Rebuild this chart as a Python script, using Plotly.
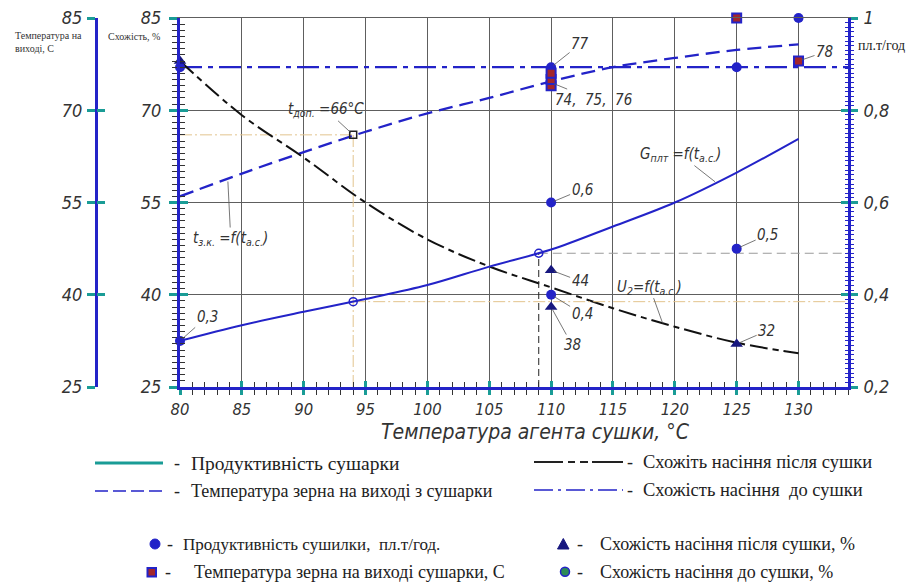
import plotly.graph_objects as go

# ---------------- data ----------------
x_curve = [80, 85, 90, 95, 100, 105, 110, 115, 120, 125, 130]
productivity = [0.300, 0.334, 0.363, 0.391, 0.421, 0.461, 0.498, 0.548, 0.600, 0.665, 0.738]
grain_temp = [56.0, 59.7, 63.2, 66.5, 69.5, 72.0, 74.7, 77.0, 78.5, 79.8, 80.7]
germ_after = [78.0, 69.2, 62.3, 55.0, 49.0, 44.6, 41.2, 37.8, 34.8, 32.2, 30.5]
germ_before_x = [80, 134]
germ_before = [77, 77]

prod_pts_x = [80, 110, 110, 125, 130]
prod_pts = [0.3, 0.6, 0.4, 0.5, 1.0]
temp_pts_x = [110, 110, 110, 125, 130]
temp_pts = [74, 75, 76, 85, 78]
after_pts_x = [80, 110, 110, 125]
after_pts = [78, 44, 38, 32]
before_pts_x = [80, 110, 125]
before_pts = [77, 77, 77]

dop_x, dop_temp, dop_prod = 94, 66, 0.385
cross_x, cross_prod = 109, 0.49

x_ticks = [80, 85, 90, 95, 100, 105, 110, 115, 120, 125, 130]
y_ticks = [25, 40, 55, 70, 85]
y2_ticks = [0.2, 0.4, 0.6, 0.8, 1.0]

# point labels: text, x, y, axis, ax, ay
point_labels = [
    ("77", 110, 77, "y", 29, -23),
    ("74,  75,  76", 110, 74.5, "y", 42, 17),
    ("78", 130, 78, "y", 26, -9),
    ("0,6", 110, 0.6, "y2", 31, -13),
    ("0,5", 125, 0.5, "y2", 31, -14),
    ("44", 110, 44, "y", 29, 11),
    ("0,4", 110, 0.4, "y2", 31, 19),
    ("38", 110, 38, "y", 21, 38),
    ("32", 125, 32, "y", 30, -13),
    ("0,3", 80, 0.3, "y2", 27, -24),
]
curve_labels = [
    ("t<sub>доп.</sub> =66°C", 94, 66, "y", -27, -25),
    ("t<sub>з.к.</sub> =f(t<sub>а.с.</sub>)", 83.86, 58.9, "y", 3, 60),
    ("G<sub>плт</sub> =f(t<sub>а.с.</sub>)", 123.44, 0.641, "y2", -37, -29),
    ("U<sub>2</sub>=f(t<sub>а.с.</sub>)", 119.1, 34.9, "y", -14, -39),
]

# ---------------- style ----------------
BLUE = "#2323C8"
NAVY = "#17177F"
TEAL = "#1A9C96"
TAN = "#E3C48E"
GRID = "#5E5E5E"
SQRED = "#A3262B"
GREEN = "#2E8B57"
GOST = "Liberation Sans Narrow, DejaVu Sans Condensed, Arial Narrow, sans-serif"
SERIF = "Liberation Serif, Times New Roman, serif"

W, H = 919, 582
ML, MR, MT, MB = 10, 10, 18, 195
PW = W - ML - MR
PH = H - MT - MB


def px(x):
    return (x - ML) / PW


def py(y):
    return (H - MB - y) / PH


XD = [px(180), px(848)]
FAR = px(96)

fig = go.Figure()

# helper lines
fig.add_trace(go.Scatter(x=[80, dop_x], y=[dop_temp, dop_temp], mode="lines",
                         line=dict(color=TAN, width=1, dash="12px,3px,2px,3px"), yaxis="y"))
fig.add_trace(go.Scatter(x=[dop_x, dop_x], y=[25, dop_temp], mode="lines",
                         line=dict(color=TAN, width=1, dash="12px,3px,2px,3px"), yaxis="y"))
fig.add_trace(go.Scatter(x=[dop_x, 134], y=[dop_prod, dop_prod], mode="lines",
                         line=dict(color=TAN, width=1, dash="12px,3px,2px,3px"), yaxis="y2"))
fig.add_trace(go.Scatter(x=[cross_x, 134], y=[cross_prod, cross_prod], mode="lines",
                         line=dict(color="#9A9A9A", width=1.2, dash="9px,5px"), yaxis="y2"))
fig.add_trace(go.Scatter(x=[cross_x, cross_x], y=[0.2, cross_prod], mode="lines",
                         line=dict(color="#222", width=1, dash="7px,4px"), yaxis="y2"))

# curves
fig.add_trace(go.Scatter(x=x_curve, y=productivity, mode="lines", line=dict(color=BLUE, width=2),
                         line_shape="spline", yaxis="y2"))
fig.add_trace(go.Scatter(x=x_curve, y=grain_temp, mode="lines", line=dict(color=BLUE, width=2.3, dash="14px,7px"),
                         line_shape="spline", yaxis="y"))
fig.add_trace(go.Scatter(x=germ_before_x, y=germ_before, mode="lines",
                         line=dict(color=BLUE, width=2.3, dash="22px,6px,5px,6px"), yaxis="y"))
fig.add_trace(go.Scatter(x=x_curve, y=germ_after, mode="lines",
                         line=dict(color="#111", width=2, dash="18px,5px,6px,5px"),
                         line_shape="spline", yaxis="y"))

# open markers
fig.add_trace(go.Scatter(x=[dop_x], y=[dop_temp], mode="markers", yaxis="y",
                         marker=dict(symbol="square-open", size=7, color="#222", line=dict(width=1.5))))
fig.add_trace(go.Scatter(x=[dop_x, cross_x], y=[dop_prod, cross_prod], mode="markers", yaxis="y2",
                         marker=dict(symbol="circle-open", size=8, color=BLUE, line=dict(width=1.5))))

# data markers
fig.add_trace(go.Scatter(x=before_pts_x, y=before_pts, mode="markers", yaxis="y", cliponaxis=False,
                         marker=dict(symbol="circle", size=10, color=BLUE)))
fig.add_trace(go.Scatter(x=prod_pts_x, y=prod_pts, mode="markers", yaxis="y2", cliponaxis=False,
                         marker=dict(symbol="circle", size=10, color=BLUE)))
fig.add_trace(go.Scatter(x=temp_pts_x, y=temp_pts, mode="markers", yaxis="y", cliponaxis=False,
                         marker=dict(symbol="square", size=9, color=SQRED, line=dict(color=BLUE, width=2))))
fig.add_trace(go.Scatter(x=after_pts_x, y=after_pts, mode="markers", yaxis="y", cliponaxis=False,
                         marker=dict(symbol="triangle-up", size=11, color=NAVY)))

# empty traces so that the decorative overlay axes are drawn
for xa, ya in [("x2", "y"), ("x3", "y"), ("x", "y3"), ("x", "y4"), ("x", "y5"), ("x", "y6")]:
    fig.add_trace(go.Scatter(x=[None], y=[None], xaxis=xa, yaxis=ya, mode="lines",
                             hoverinfo="skip", showlegend=False))

tickfont = dict(family=GOST, size=18, color="#333", style="italic")
xtickfont = dict(family=GOST, size=16.5, color="#333", style="italic")

major_tick = dict(tickcolor=TEAL, tickwidth=3)
fig.update_layout(
    width=W, height=H, margin=dict(l=ML, r=MR, t=MT, b=MB, autoexpand=False),
    paper_bgcolor="white", plot_bgcolor="white", showlegend=False,
    separators=", ",
    xaxis=dict(domain=XD, range=[80, 134], tickvals=x_ticks, ticks="outside", ticklen=5, **major_tick,
               minor=dict(dtick=1, tick0=80, ticks="outside", ticklen=5, tickcolor="#333", tickwidth=1, showgrid=False),
               showline=True, linecolor=BLUE, linewidth=3, showgrid=True, gridcolor=GRID, gridwidth=1,
               zeroline=False, anchor="y", tickfont=xtickfont, ticklabelstandoff=0, automargin=False),
    xaxis2=dict(domain=XD, range=[80, 134], overlaying="x", anchor="y", tickvals=x_ticks, ticks="inside",
                ticklen=6, **major_tick, showticklabels=False, showgrid=False, showline=False, zeroline=False,
                automargin=False,
                minor=dict(dtick=1, tick0=80, ticks="inside", ticklen=5, tickcolor="#333", tickwidth=1)),
    xaxis3=dict(domain=XD, range=[80, 134], overlaying="x", anchor="y", side="top", ticks="",
                showticklabels=False, showgrid=False, showline=True, linecolor=GRID, linewidth=1,
                zeroline=False, automargin=False),
    yaxis=dict(domain=[0, 1], range=[25, 85], tickvals=y_ticks, ticks="outside", ticklen=8, **major_tick,
               minor=dict(dtick=1, tick0=25, ticks="outside", ticklen=5, tickcolor="#333", tickwidth=1, showgrid=False),
               showline=True, linecolor=BLUE, linewidth=3, showgrid=True, gridcolor=GRID, gridwidth=1,
               zeroline=False, anchor="x", tickfont=tickfont, ticklabelstandoff=4, automargin=False),
    yaxis4=dict(range=[25, 85], overlaying="y", anchor="x", side="left", tickvals=y_ticks, ticks="inside",
                ticklen=8, **major_tick, showticklabels=False, showgrid=False, showline=False, zeroline=False,
                automargin=False,
                minor=dict(dtick=1, tick0=25, ticks="inside", ticklen=5, tickcolor="#333", tickwidth=1)),
    yaxis2=dict(range=[0.2, 1.0], overlaying="y", anchor="x", side="right", tickvals=y2_ticks,
                ticks="outside", ticklen=7, **major_tick,
                minor=dict(dtick=0.01, tick0=0.2, ticks="outside", ticklen=3, tickcolor=BLUE, tickwidth=1),
                showline=True, linecolor=BLUE, linewidth=3, showgrid=False, zeroline=False,
                tickfont=tickfont, ticklabelstandoff=2, automargin=False),
    yaxis5=dict(range=[0.2, 1.0], overlaying="y", anchor="x", side="right", tickvals=y2_ticks,
                ticks="inside", ticklen=7, **major_tick, showticklabels=False, showgrid=False,
                showline=False, zeroline=False, automargin=False,
                minor=dict(dtick=0.01, tick0=0.2, ticks="inside", ticklen=3, tickcolor=BLUE, tickwidth=1)),
    yaxis3=dict(range=[25, 85], overlaying="y", anchor="free", position=FAR, side="left",
                tickvals=y_ticks, ticks="outside", ticklen=8, **major_tick, showline=True, linecolor=BLUE,
                linewidth=3, showgrid=False, zeroline=False, tickfont=tickfont, ticklabelstandoff=1,
                automargin=False),
    yaxis6=dict(range=[25, 85], overlaying="y", anchor="free", position=FAR, side="left",
                tickvals=y_ticks, ticks="inside", ticklen=8, **major_tick, showticklabels=False,
                showline=False, showgrid=False, zeroline=False, automargin=False),
)

annotations = []
lab_font = dict(family=GOST, size=15, color="#333", style="italic")
for text, xv, yv, ax_ref, ax, ay in point_labels + curve_labels:
    annotations.append(dict(text=text, x=xv, y=yv, xref="x", yref=ax_ref, ax=ax, ay=ay,
                            showarrow=True, arrowhead=0, arrowwidth=0.8, arrowcolor="#555",
                            font=lab_font, standoff=3))

# axis captions
annotations += [
    dict(text="Температура агента сушки, °C", x=px(535), y=py(432), xref="paper", yref="paper",
         xanchor="center", yanchor="middle", showarrow=False,
         font=dict(family=GOST, size=21, color="#333", style="italic")),
    dict(text="Температура на<br>виході, С", x=px(13), y=py(42), xref="paper", yref="paper",
         xanchor="left", yanchor="middle", align="left", showarrow=False,
         font=dict(family=SERIF, size=10, color="#333")),
    dict(text="Схожість, %", x=px(106), y=py(36), xref="paper", yref="paper",
         xanchor="left", yanchor="middle", showarrow=False, font=dict(family=SERIF, size=10, color="#333")),
    dict(text="пл.т/год", x=px(856), y=py(46), xref="paper", yref="paper",
         xanchor="left", yanchor="middle", showarrow=False, font=dict(family=SERIF, size=14, color="#222")),
]

# legend (drawn)
legend_rows = [
    (463, 189, "Продуктивність сушарки", 177, 19.5),
    (491, 189, "Температура зерна на виході з сушарки", 177, 18),
    (544, 181, "Продуктивність сушилки,  пл.т/год.", 170, 17),
    (572, 192, "Температура зерна на виході сушарки, С", 168, 18),
    (462, 641, "Схожіть насіння після сушки", 630, 18.5),
    (490, 641, "Схожість насіння  до сушки", 630, 18.5),
    (544, 598, "Схожість насіння після сушки, %", 580, 18),
    (572, 598, "Схожість насіння до сушки, %", 580, 18),
]
for yy, xt, text, xd, fs in legend_rows:
    annotations.append(dict(text=text, x=px(xt), y=py(yy), xref="paper", yref="paper",
                            xanchor="left", yanchor="middle", showarrow=False,
                            font=dict(family=SERIF, size=fs, color="#222")))
    annotations.append(dict(text="-", x=px(xd), y=py(yy), xref="paper", yref="paper",
                            xanchor="center", yanchor="middle", showarrow=False,
                            font=dict(family=SERIF, size=18, color="#222")))

shapes = [
    dict(type="line", xref="paper", yref="paper", x0=px(95), x1=px(163), y0=py(463), y1=py(463),
         line=dict(color=TEAL, width=3)),
    dict(type="line", xref="paper", yref="paper", x0=px(95), x1=px(163), y0=py(491), y1=py(491),
         line=dict(color=BLUE, width=1.5, dash="13px,5px")),
    dict(type="line", xref="paper", yref="paper", x0=px(534), x1=px(623), y0=py(462), y1=py(462),
         line=dict(color="#222", width=2, dash="29px,5px,7px,5px,8px,4px,32px")),
    dict(type="line", xref="paper", yref="paper", x0=px(534), x1=px(623), y0=py(490), y1=py(490),
         line=dict(color=BLUE, width=1.5, dash="19px,5px,3px,5px")),
    dict(type="circle", xref="paper", yref="paper", x0=px(150), x1=px(160), y0=py(539), y1=py(549),
         fillcolor=BLUE, line=dict(color=BLUE, width=1)),
    dict(type="rect", xref="paper", yref="paper", x0=px(147.5), x1=px(156), y0=py(568), y1=py(576.5),
         fillcolor=SQRED, line=dict(color=BLUE, width=2)),
    dict(type="path", xref="paper", yref="paper",
         path=f"M {px(557.5)} {py(549)} L {px(569)} {py(549)} L {px(563.3)} {py(538.5)} Z",
         fillcolor=NAVY, line=dict(color=NAVY, width=1)),
    dict(type="circle", xref="paper", yref="paper", x0=px(560.5), x1=px(569.5), y0=py(567.2), y1=py(576.2),
         fillcolor=GREEN, line=dict(color=BLUE, width=1.5)),
]

fig.update_layout(annotations=annotations, shapes=shapes)
fig.write_html("out.html", config={"displayModeBar": False},
               post_script="document.body.style.margin='0px';")
